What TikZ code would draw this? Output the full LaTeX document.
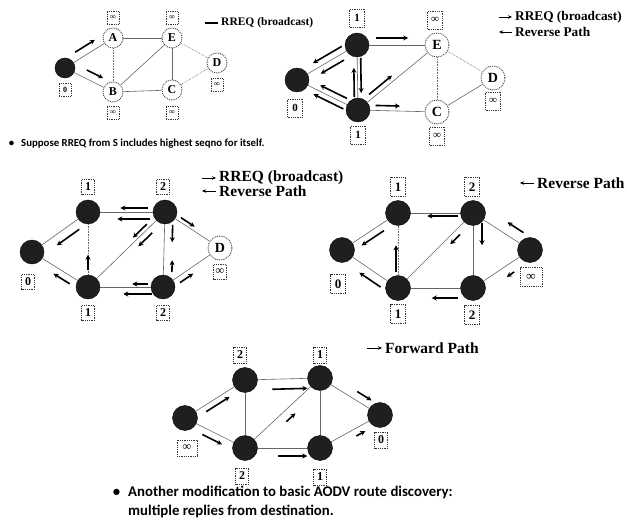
\documentclass[tikz,border=0pt]{standalone}
\usepackage{fontspec}
\setmainfont{Liberation Serif}
\newfontfamily\notefont{Carlito}
\usetikzlibrary{arrows.meta, calc}
\tikzset{
	wnode/.style  ={circle, draw=black!75, densely dotted, line width=0.9pt, fill=white, inner sep=0pt},
	bnode/.style  ={circle, draw=black, fill=black!88, inner sep=0pt},
	seqbox/.style ={rectangle, draw=black!80, densely dotted, line width=0.8pt, inner sep=1.5pt, fill=white},
	link/.style   ={draw=black!60, line width=0.6pt},
	flowarr/.style={-{Stealth[length=5pt, width=5pt]}, line width=1.6pt},
	legarr/.style ={-{Stealth[length=4pt, width=3.5pt]}, line width=0.8pt},
	legtxt/.style ={anchor=west, inner sep=0pt},
	note/.style   ={anchor=base west, inner sep=0pt},
}
% short arrow parallel to the link between two nodes: from, to, start, end, side offset
\newcommand{\rflow}[5]{\draw[flowarr] ($(#1)!#3!(#2)!#5!90:(#2)$) -- ($(#1)!#4!(#2)!#5!90:(#2)$);}

\begin{document}
\begin{tikzpicture}[x=1pt, y=-1pt]
	\fill[white] (0,0) rectangle (627,532);
	\useasboundingbox (0,0) rectangle (627,532);

	% 1. RREQ leaves S
	\begin{scope}[font=\bfseries\fontsize{8}{8}\selectfont,
		wnode/.append style={minimum size=20, font=\bfseries\fontsize{12}{12}\selectfont},
		bnode/.append style={minimum size=20},
		seqbox/.append style={minimum width=12, minimum height=13}]
		\node[bnode] (S1) at (65,68) {};
		\node[wnode] (A1) at (113,38) {A};
		\node[wnode] (E1) at (172,38) {E};
		\node[wnode] (D1) at (217,63) {D};
		\node[wnode] (B1) at (113,92) {B};
		\node[wnode] (C1) at (172,90) {C};
		\node[seqbox] (qS1) at (65,90) {0};
		\node[seqbox] (qA1) at (113,18) {∞};
		\node[seqbox] (qE1) at (172,18) {∞};
		\node[seqbox] (qD1) at (217,85) {∞};
		\node[seqbox] (qB1) at (113,113) {∞};
		\node[seqbox] (qC1) at (172,113) {∞};
		\draw[link] (S1) -- (A1); \draw[link] (S1) -- (B1); \draw[link] (A1) -- (E1);
		\draw[link, densely dotted] (A1) -- (B1); \draw[link] (B1) -- (E1); \draw[link] (E1) -- (C1);
		\draw[link] (B1) -- (C1); \draw[link, densely dotted] (E1) -- (D1); \draw[link, densely dotted] (C1) -- (D1);
		\rflow{S1}{A1}{0.3}{0.71}{8pt}
		\rflow{S1}{B1}{0.38}{0.72}{8pt}
		\node[legtxt, font=\bfseries\fontsize{11.5}{12}\selectfont] (lg1) at (221,23) {RREQ (broadcast)};
		\draw[line width=1.2pt] ($(lg1.west)+(-16,0)$) -- ($(lg1.west)+(-3,0)$);
	\end{scope}

	% 2. S's neighbours rebroadcast
	\begin{scope}[font=\bfseries\fontsize{11}{11}\selectfont,
		wnode/.append style={minimum size=24, font=\bfseries\fontsize{14}{14}\selectfont},
		bnode/.append style={minimum size=24},
		seqbox/.append style={minimum width=15, minimum height=18}]
		\node[bnode] (S2) at (297,80) {};
		\node[bnode] (A2) at (357,45) {};
		\node[wnode] (E2) at (437,45) {E};
		\node[wnode] (D2) at (493,78) {D};
		\node[bnode] (B2) at (358,110) {};
		\node[wnode] (C2) at (437,112) {C};
		\node[seqbox] (qS2) at (295,108) {0};
		\node[seqbox] (qA2) at (357,18) {1};
		\node[seqbox] (qE2) at (435,20) {∞};
		\node[seqbox] (qD2) at (493,101) {∞};
		\node[seqbox] (qB2) at (358,135) {1};
		\node[seqbox] (qC2) at (437,136) {∞};
		\draw[link] (S2) -- (A2); \draw[link] (S2) -- (B2); \draw[link] (A2) -- (E2);
		\draw[link] (A2) -- (B2); \draw[link] (B2) -- (E2); \draw[link, densely dotted] (E2) -- (C2);
		\draw[link] (B2) -- (C2); \draw[link, densely dotted] (E2) -- (D2); \draw[link] (C2) -- (D2);
		\rflow{A2}{E2}{0.24}{0.64}{7pt}
		\rflow{B2}{C2}{0.22}{0.53}{5pt}
		\rflow{A2}{S2}{0.2}{0.68}{-6.5pt}
		\rflow{A2}{S2}{0.27}{0.66}{6.5pt}
		\rflow{B2}{S2}{0.22}{0.66}{-5.5pt}
		\rflow{B2}{S2}{0.2}{0.69}{5.5pt}
		\rflow{B2}{A2}{0.2}{0.65}{3.5pt}
		\rflow{A2}{B2}{0.2}{0.74}{3.5pt}
		\rflow{B2}{E2}{0.18}{0.47}{5pt}
		\node[legtxt, font=\bfseries\fontsize{13.3}{14}\selectfont] (lg2) at (515,17) {RREQ (broadcast)};
		\node[legtxt, font=\bfseries\fontsize{13.3}{14}\selectfont] (lg3) at (515,32) {Reverse Path};
		\draw[legarr] ($(lg2.west)+(-16,0)$) -- ($(lg2.west)+(-3,0)$);
		\draw[legarr] ($(lg3.west)+(-3,0)$) -- ($(lg3.west)+(-16,0)$);
	\end{scope}

	\node[note, font=\notefont\bfseries\fontsize{10.8}{13}\selectfont] (note1) at (21,146.5)
		{\llap{\textbullet\hspace{7pt}}Suppose RREQ from S includes highest seqno for itself.};

	% 3. RREQ reaches the second ring
	\begin{scope}[font=\bfseries\fontsize{12}{12}\selectfont,
		wnode/.append style={minimum size=24, font=\bfseries\fontsize{14}{14}\selectfont},
		bnode/.append style={minimum size=24},
		seqbox/.append style={minimum width=13, minimum height=15}]
		\node[bnode] (S3) at (32,252) {};
		\node[bnode] (A3) at (88,212) {};
		\node[bnode] (E3) at (165,212) {};
		\node[wnode] (D3) at (220,248) {D};
		\node[bnode] (B3) at (88,287) {};
		\node[bnode] (C3) at (163,287) {};
		\node[seqbox] (qS3) at (28,282) {0};
		\node[seqbox] (qA3) at (88,187) {1};
		\node[seqbox] (qE3) at (163,187) {2};
		\node[seqbox] (qD3) at (220,272) {∞};
		\node[seqbox] (qB3) at (88,313) {1};
		\node[seqbox] (qC3) at (163,313) {2};
		\draw[link] (S3) -- (A3); \draw[link] (S3) -- (B3); \draw[link] (A3) -- (E3);
		\draw[link, densely dotted] (A3) -- (B3); \draw[link] (B3) -- (E3); \draw[link] (E3) -- (C3);
		\draw[link] (B3) -- (C3); \draw[link] (E3) -- (D3); \draw[link] (C3) -- (D3);
		\rflow{E3}{A3}{0.22}{0.58}{-4pt}
		\rflow{E3}{A3}{0.19}{0.62}{7pt}
		\rflow{A3}{S3}{0.25}{0.65}{9pt}
		\rflow{E3}{B3}{0.2}{0.38}{-4pt}
		\rflow{E3}{B3}{0.22}{0.4}{6pt}
		\rflow{E3}{C3}{0.17}{0.4}{8pt}
		\rflow{C3}{E3}{0.2}{0.36}{-8.5pt}
		\rflow{E3}{D3}{0.25}{0.5}{4pt}
		\rflow{C3}{D3}{0.24}{0.47}{-6pt}
		\rflow{C3}{B3}{0.2}{0.41}{-3pt}
		\rflow{C3}{B3}{0.15}{0.53}{7pt}
		\rflow{B3}{A3}{0.23}{0.43}{0pt}
		\rflow{B3}{S3}{0.26}{0.55}{7pt}
		\node[legtxt, font=\bfseries\fontsize{15.5}{16}\selectfont] (lg4) at (219,178) {RREQ (broadcast)};
		\node[legtxt, font=\bfseries\fontsize{15.5}{16}\selectfont] (lg5) at (219,191) {Reverse Path};
		\draw[legarr] ($(lg4.west)+(-17,0)$) -- ($(lg4.west)+(-3,0)$);
		\draw[legarr] ($(lg5.west)+(-3,0)$) -- ($(lg5.west)+(-17,0)$);
	\end{scope}

	% 4. reverse path towards S
	\begin{scope}[font=\bfseries\fontsize{13}{13}\selectfont,
		bnode/.append style={minimum size=25},
		seqbox/.append style={minimum width=15, minimum height=19}]
		\node[bnode] (S4) at (342,250) {};
		\node[bnode] (A4) at (398,213) {};
		\node[bnode] (E4) at (473,213) {};
		\node[bnode] (D4) at (530,250) {};
		\node[bnode] (B4) at (398,288) {};
		\node[bnode] (C4) at (473,288) {};
		\node[seqbox] (qS4) at (338,284) {0};
		\node[seqbox] (qA4) at (398,187) {1};
		\node[seqbox] (qE4) at (472,187) {2};
		\node[seqbox, minimum width=22] (qD4) at (531,277) {∞};
		\node[seqbox] (qB4) at (398,314) {1};
		\node[seqbox] (qC4) at (472,315) {2};
		\draw[link] (S4) -- (A4); \draw[link] (S4) -- (B4); \draw[link] (A4) -- (E4);
		\draw[link, densely dotted] (A4) -- (B4); \draw[link] (B4) -- (E4); \draw[link] (E4) -- (C4);
		\draw[link] (B4) -- (C4); \draw[link] (E4) -- (D4); \draw[link] (C4) -- (D4);
		\rflow{E4}{A4}{0.2}{0.61}{3pt}
		\rflow{E4}{B4}{0.23}{0.36}{6pt}
		\rflow{E4}{C4}{0.13}{0.43}{9pt}
		\rflow{D4}{E4}{0.22}{0.5}{-11pt}
		\rflow{D4}{C4}{0.37}{0.5}{9.5pt}
		\rflow{C4}{B4}{0.2}{0.55}{10pt}
		\rflow{B4}{A4}{0.21}{0.57}{2pt}
		\rflow{A4}{S4}{0.32}{0.72}{7pt}
		\rflow{B4}{S4}{0.22}{0.6}{9pt}
		\node[legtxt, font=\bfseries\fontsize{15.5}{16}\selectfont] (lg6) at (537,183) {Reverse Path};
		\draw[legarr] ($(lg6.west)+(-3,0)$) -- ($(lg6.west)+(-17,0)$);
	\end{scope}

	% 5. replies back along the forward path
	\begin{scope}[font=\bfseries\fontsize{12}{12}\selectfont,
		bnode/.append style={minimum size=25},
		seqbox/.append style={minimum width=13, minimum height=16}]
		\node[bnode] (S5) at (185,418) {};
		\node[bnode] (A5) at (245,380) {};
		\node[bnode] (E5) at (320,378) {};
		\node[bnode] (D5) at (380,415) {};
		\node[bnode] (B5) at (245,448) {};
		\node[bnode] (C5) at (320,448) {};
		\node[seqbox, minimum width=20] (qS5) at (187,448) {∞};
		\node[seqbox] (qA5) at (240,355) {2};
		\node[seqbox] (qE5) at (320,355) {1};
		\node[seqbox] (qD5) at (381,440) {0};
		\node[seqbox] (qB5) at (242,476) {2};
		\node[seqbox] (qC5) at (320,477) {1};
		\draw[link] (S5) -- (A5); \draw[link] (S5) -- (B5); \draw[link] (A5) -- (E5);
		\draw[link] (A5) -- (B5); \draw[link] (B5) -- (E5); \draw[link] (E5) -- (C5);
		\draw[link] (B5) -- (C5); \draw[link] (E5) -- (D5); \draw[link] (C5) -- (D5);
		\rflow{S5}{A5}{0.3}{0.69}{-6pt}
		\rflow{S5}{B5}{0.34}{0.67}{-7pt}
		\rflow{A5}{E5}{0.36}{0.83}{-10pt}
		\rflow{B5}{E5}{0.47}{0.59}{-9pt}
		\rflow{B5}{C5}{0.44}{0.83}{-8pt}
		\rflow{E5}{D5}{0.55}{0.79}{8pt}
		\rflow{C5}{D5}{0.55}{0.7}{-7pt}
		\node[legtxt, font=\bfseries\fontsize{15.5}{16}\selectfont] (lg7) at (385,348) {Forward Path};
		\draw[legarr] ($(lg7.west)+(-18,0)$) -- ($(lg7.west)+(-3,0)$);
	\end{scope}

	\node[note, font=\notefont\bfseries\fontsize{14.8}{19}\selectfont] (note2) at (128,496)
		{\llap{\textbullet\hspace{8pt}}Another modification to basic AODV route discovery:};
	\node[note, font=\notefont\bfseries\fontsize{14.8}{19}\selectfont] (note3) at (128,515)
		{multiple replies from destination.};
\end{tikzpicture}
\end{document}
